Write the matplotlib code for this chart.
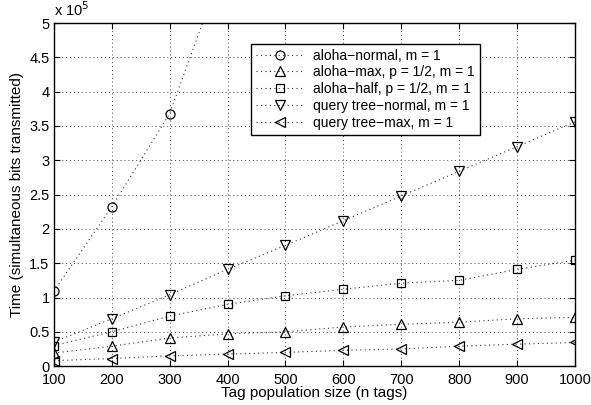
import matplotlib
matplotlib.use("Agg")
import matplotlib.pyplot as plt
from matplotlib.ticker import FuncFormatter, MultipleLocator

plt.rcParams['font.family'] = ['Liberation Sans', 'DejaVu Sans']

n_tags = [100, 200, 300, 400, 500, 600, 700, 800, 900, 1000]
aloha_normal_x = [100, 200, 300, 400]
aloha_normal = [1.09e5, 2.32e5, 3.68e5, 6.0e5]
aloha_max = [0.19e5, 0.29e5, 0.41e5, 0.47e5, 0.50e5, 0.57e5, 0.61e5, 0.64e5, 0.69e5, 0.71e5]
aloha_half = [0.30e5, 0.50e5, 0.73e5, 0.90e5, 1.025e5, 1.12e5, 1.21e5, 1.25e5, 1.41e5, 1.545e5]
qt_normal = [0.35e5, 0.69e5, 1.04e5, 1.41e5, 1.76e5, 2.12e5, 2.48e5, 2.84e5, 3.20e5, 3.56e5]
qt_max = [0.08e5, 0.11e5, 0.15e5, 0.175e5, 0.20e5, 0.23e5, 0.25e5, 0.29e5, 0.32e5, 0.345e5]

labels = ['aloha\u2212normal, m = 1', 'aloha\u2212max, p = 1/2, m = 1',
          'aloha\u2212half, p = 1/2, m = 1', 'query tree\u2212normal, m = 1',
          'query tree\u2212max, m = 1']

fig = plt.figure(figsize=(5.91, 4.05), dpi=100)
ax = fig.add_axes([0.091, 0.096, 0.882, 0.847])

common = dict(color='#333333', linestyle=(0, (1, 3)), linewidth=0.8, markerfacecolor='none',
              markeredgecolor='black', markeredgewidth=0.9, markersize=6.5)
ax.plot(aloha_normal_x, aloha_normal, marker='o', label=labels[0], **common)
ax.plot(n_tags, aloha_max, marker='^', label=labels[1], **common)
ax.plot(n_tags, aloha_half, marker='s', label=labels[2], **dict(common, markersize=5.5))
ax.plot(n_tags, qt_normal, marker='v', label=labels[3], **common)
ax.plot(n_tags, qt_max, marker='<', label=labels[4], **common)

ax.set_xlim(100, 1000)
ax.set_ylim(0, 5e5)
ax.xaxis.set_major_locator(MultipleLocator(100))
ax.yaxis.set_major_locator(MultipleLocator(0.5e5))
ax.yaxis.set_major_formatter(FuncFormatter(lambda v, p: f'{v/1e5:g}'))
ax.grid(True, linestyle=(0, (1, 3)), color='#444444', linewidth=0.7)
ax.tick_params(direction='in', top=True, right=True, labelsize=10.5, length=4)
ax.tick_params(axis='x', pad=5)
ax.tick_params(axis='y', pad=3)
for s in ax.spines.values():
    s.set_linewidth(1.0)

ax.set_xlabel('Tag population size (n tags)', fontsize=11, labelpad=-1)
ax.set_ylabel('Time (simultaneous bits transmitted)', fontsize=11, labelpad=4)
ax.text(0.0, 1.012, 'x 10$^5$', transform=ax.transAxes, fontsize=10.5, ha='left', va='bottom')

leg = ax.legend(loc='upper left', bbox_to_anchor=(0.379, 0.94), fontsize=10,
                frameon=True, fancybox=False, edgecolor='black', framealpha=1,
                handlelength=3.4, borderpad=0.35, labelspacing=0.2, handletextpad=0.7,
                borderaxespad=0)
leg.get_frame().set_linewidth(1.0)

fig.savefig('out.png', dpi=100)
